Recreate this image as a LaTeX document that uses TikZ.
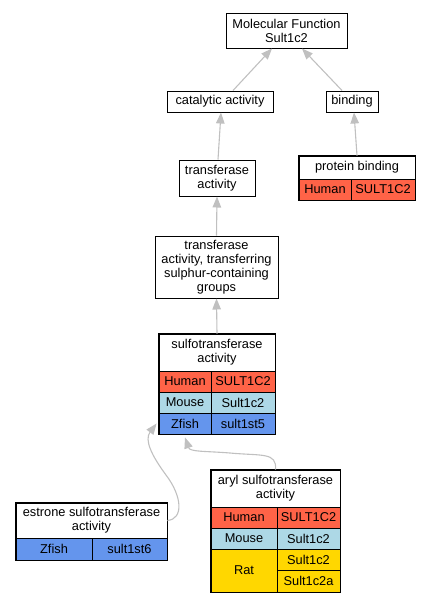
\documentclass[tikz,border=0pt]{standalone}
\usepackage{fontspec}
\setmainfont{Liberation Sans}
\usetikzlibrary{arrows.meta}
\definecolor{humancol}{HTML}{FF6347}
\definecolor{mousecol}{HTML}{ADD8E6}
\definecolor{zfishcol}{HTML}{6495ED}
\definecolor{ratcol}{HTML}{FFD700}
\definecolor{edgecol}{HTML}{C0C0C0}

\begin{document}
\begin{tikzpicture}[x=1pt,y=-1pt,>={Triangle[length=11pt,width=8.5pt]},
  font=\fontsize{12.8}{14}\selectfont,
  term/.style={draw,line width=1pt,fill=white,inner sep=0pt,align=center},
  cell/.style={draw,line width=0.8pt,inner sep=0pt,minimum height=21},
  edge/.style={->,draw=edgecol,line width=1.1pt}]
\useasboundingbox (0,0) rectangle (431,603);
\node[term,minimum width=121,minimum height=35] (mf) at (286.5,30.5) {Molecular Function\\Sult1c2};
\node[term,minimum width=106,minimum height=21] (cat) at (220,101.5) {catalytic activity};
\node[term,minimum width=52,minimum height=21] (bind) at (352,101.5) {binding};
\node[term,minimum width=76,minimum height=36] (ta) at (217,178) {transferase\\activity};
\node[term,minimum width=123,minimum height=62] (sul) at (216.5,267) {transferase\\activity, transferring\\sulphur-containing\\groups};
\node[cell,fill=white,align=center,minimum width=116,minimum height=23] (pbh) at (357,167.5) {protein binding};
\node[cell,fill=humancol,minimum width=52] (pb1) at (325,189.5) {Human};
\node[cell,fill=humancol,minimum width=64] (pb2) at (383,189.5) {SULT1C2};
\draw[line width=1pt] (pbh.north west) rectangle (pb2.south east);
\node[cell,fill=white,align=center,minimum width=116,minimum height=37] (sth) at (217,352.5) {sulfotransferase\\activity};
\node[cell,fill=humancol,minimum width=52] (st1) at (185,381.5) {Human};
\node[cell,fill=humancol,minimum width=64] (st2) at (243,381.5) {SULT1C2};
\node[cell,fill=mousecol,minimum width=52] (st3) at (185,402.5) {Mouse};
\node[cell,fill=mousecol,minimum width=64] (st4) at (243,402.5) {Sult1c2};
\node[cell,fill=zfishcol,minimum width=52] (st5) at (185,423.5) {Zfish};
\node[cell,fill=zfishcol,minimum width=64] (st6) at (243,423.5) {sult1st5};
\draw[line width=1pt] (sth.north west) rectangle (st6.south east);
\node[cell,fill=white,align=center,minimum width=151,minimum height=35] (esh) at (91.5,520.5) {estrone sulfotransferase\\activity};
\node[cell,fill=zfishcol,minimum width=76,minimum height=22] (es1) at (54,549) {Zfish};
\node[cell,fill=zfishcol,minimum width=75,minimum height=22] (es2) at (129.5,549) {sult1st6};
\draw[line width=1pt] (esh.north west) rectangle (es2.south east);
\node[cell,fill=white,align=center,minimum width=129,minimum height=37] (arh) at (275.5,488.5) {aryl sulfotransferase\\activity};
\node[cell,fill=humancol,minimum width=66] (ar1) at (244,517.5) {Human};
\node[cell,fill=humancol,minimum width=63] (ar2) at (308.5,517.5) {SULT1C2};
\node[cell,fill=mousecol,minimum width=66] (ar3) at (244,538.5) {Mouse};
\node[cell,fill=mousecol,minimum width=63] (ar4) at (308.5,538.5) {Sult1c2};
\node[cell,fill=ratcol,minimum width=66,minimum height=43] (ar5) at (244,570.5) {Rat};
\node[cell,fill=ratcol,minimum width=63] (ar6) at (308.5,559.5) {Sult1c2};
\node[cell,fill=ratcol,minimum width=63,minimum height=22] (ar7) at (308.5,581) {Sult1c2a};
\draw[line width=1pt] (arh.north west) rectangle (ar7.south east);
\draw[edge] ([xshift=13]cat.north) -- ([xshift=-14.5]mf.south);
\draw[edge] ([xshift=-10]bind.north) -- ([xshift=15.5]mf.south);
\draw[edge] ([xshift=1]ta.north) -- ([xshift=1]cat.south);
\draw[edge] (pbh.north) -- ([xshift=2]bind.south);
\draw[edge] (sul.north) -- (ta.south);
\draw[edge] (sth.north) -- (sul.south);
\draw[edge] (esh.east) .. controls (184,519) and (182,496) .. (166,475) .. controls (152,456) and (144,440) .. ([xshift=-2pt]st5.west);
\draw[edge] (arh.north) .. controls (277,452) and (262,456) .. (230,453) .. controls (205,451) and (190,452) .. ([yshift=-3pt]st5.south);
\end{tikzpicture}
\end{document}
